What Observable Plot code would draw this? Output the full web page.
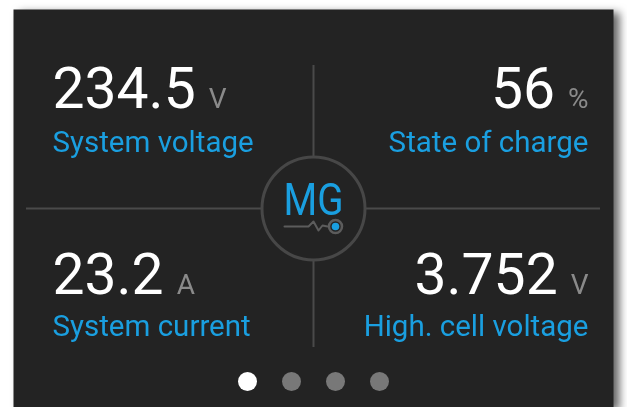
<!DOCTYPE html>
<html>
<head>
<meta charset="utf-8">
<script src="https://cdn.jsdelivr.net/npm/d3@7"></script>
<script src="https://cdn.jsdelivr.net/npm/@observablehq/plot@0.6"></script>
<style>
  html, body { margin: 0; padding: 0; background: #ffffff; }
  #chart { width: 627px; height: 407px; overflow: hidden; }
</style>
</head>
<body>
<div id="chart"></div>
<script>
// ---- data ----
const metricValues  = ["234.5", "56", "23.2", "3.752"];
const metricUnits   = ["V", "%", "A", "V"];
const metricLabels  = ["System voltage", "State of charge", "System current", "High. cell voltage"];
const metricColumns = ["left", "right", "left", "right"];
const metricRows    = ["top", "top", "bottom", "bottom"];
const logoText      = ["MG"];
const pages         = [1, 2, 3, 4];
const activePage    = 1;

// ---- layout (panel units, origin at panel centre, y grows downward) ----
const colX       = {left: -261, right: 275};
const rowValueY  = {top: -101, bottom: 85};
const rowLabelY  = {top: -57, bottom: 127};
const hDivider   = [{x1: -287, x2: 287, y: 0}];
const vDivider   = [{y1: -143, y2: 139, x: 0}];
const hub        = [{x: 0, y: 0}];
const logoTrace  = [[-29, 18], [-5, 18], [0, 13], [5, 22], [9, 17], [14, 18]];
const logoNode   = [{x: 22, y: 18}];
const pagerY     = 173;
const pagerStep  = 44;

const BLUE = "#1a9fe0";
const BG = "#232323";
const FONT = "Roboto";

const metrics = metricValues.map((v, i) => ({
  value: v, unit: metricUnits[i], label: metricLabels[i], col: metricColumns[i], row: metricRows[i]
}));

function valueText(col) {
  return Plot.text(metrics, {
    filter: d => d.col === col,
    x: d => colX[d.col], y: d => rowValueY[d.row], text: "value",
    textAnchor: col === "left" ? "start" : "end", lineAnchor: "bottom",
    fontSize: 57, fontFamily: FONT, fontWeight: 400, fill: "#ffffff"
  });
}
function labelText(col) {
  return Plot.text(metrics, {
    filter: d => d.col === col,
    x: d => colX[d.col], y: d => rowLabelY[d.row], text: "label",
    textAnchor: col === "left" ? "start" : "end", lineAnchor: "bottom",
    fontSize: 29.5, fontFamily: FONT, fontWeight: 400, fill: BLUE
  });
}

const chart = Plot.plot({
  width: 627, height: 407,
  marginLeft: 13, marginRight: 14, marginTop: 9, marginBottom: 0,
  x: {domain: [-300, 300], axis: null},
  y: {domain: [-199, 199], reverse: true, axis: null},
  color: {type: "identity"},
  style: {background: "transparent", filter: "drop-shadow(6px 3px 4px rgba(0,0,0,0.6))", overflow: "visible"},
  marks: [
    Plot.frame({fill: BG, stroke: null}),
    Plot.ruleY(hDivider, {x1: "x1", x2: "x2", y: "y", stroke: "#4a4a4a", strokeWidth: 2}),
    Plot.ruleX(vDivider, {y1: "y1", y2: "y2", x: "x", stroke: "#4a4a4a", strokeWidth: 2}),
    Plot.dot(hub, {x: "x", y: "y", r: 51.5, fill: BG, stroke: "#474747", strokeWidth: 3}),
    Plot.text(logoText, {x: () => 0, y: () => 6, text: d => d, textAnchor: "middle", lineAnchor: "bottom",
      fontSize: 44, fontFamily: FONT, fontWeight: 400, fill: BLUE}),
    Plot.line(logoTrace, {x: d => d[0], y: d => d[1], stroke: "#5c5c5c", strokeWidth: 2}),
    Plot.dot(logoNode, {x: "x", y: "y", r: 6.5, fill: "none", stroke: "#5c5c5c", strokeWidth: 2.5}),
    Plot.dot(logoNode, {x: "x", y: "y", r: 3.8, fill: BLUE}),
    valueText("left"), valueText("right"),
    labelText("left"), labelText("right"),
    Plot.dot(pages, {x: p => (p - (pages.length + 1) / 2) * pagerStep, y: () => pagerY, r: 9.5,
      fill: p => p === activePage ? "#ffffff" : "#787878"})
  ]
});

// append the small grey unit after each value; narrow the logo lettering
d3.select(chart).selectAll("text").each(function() {
  const t = this.textContent.trim();
  if (logoText.includes(t)) {
    d3.select(this).attr("textLength", 60).attr("lengthAdjust", "spacingAndGlyphs");
    return;
  }
  const m = metrics.find(d => d.value === t);
  if (!m) return;
  d3.select(this).append("tspan")
    .attr("dx", 13)
    .attr("font-size", 28)
    .attr("font-weight", 400)
    .attr("fill", "#8a8a8a")
    .text(m.unit);
});

document.getElementById("chart").appendChild(chart);
</script>
</body>
</html>
